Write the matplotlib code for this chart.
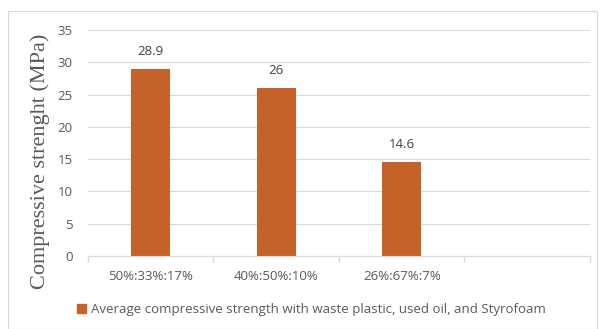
import numpy as np
import matplotlib
matplotlib.use("Agg")
import matplotlib.pyplot as plt
from matplotlib.patches import Rectangle
from matplotlib.ticker import FixedLocator, NullFormatter

# data
categories = ["50%:33%:17%", "40%:50%:10%", "26%:67%:7%", ""]
strength = [28.9, 26.0, 14.6, np.nan]
series_name = "Average compressive strength with waste plastic, used oil, and Styrofoam"

BAR_COLOR = "#C5622A"
GRID = "#D9D9D9"
TEXT = "#595959"


def main() -> None:
    plt.rcParams["font.family"] = ["Open Sans", "DejaVu Sans"]
    fig = plt.figure(figsize=(6.04, 3.29), dpi=100)
    ax = fig.add_axes([0.1457, 0.222, 0.831, 0.687])

    x = np.arange(len(categories))
    ax.bar(x, strength, width=0.31, color=BAR_COLOR, zorder=3)
    for xi, v in zip(x, strength):
        if np.isnan(v):
            continue
        ax.text(xi, v + 2.7, f"{v:g}", ha="center", va="center",
                fontsize=9.5, color="#404040")

    ax.set_xlim(-0.5, len(categories) - 0.5)
    ax.set_ylim(0, 35)
    ax.set_yticks(np.arange(0, 36, 5))
    ax.set_xticks(x)
    ax.set_xticklabels(categories)
    ax.xaxis.set_minor_locator(FixedLocator(np.arange(-0.5, len(categories), 1)))
    ax.xaxis.set_minor_formatter(NullFormatter())
    ax.tick_params(axis="x", which="major", length=0, pad=10, labelsize=9.5,
                   labelcolor=TEXT)
    ax.tick_params(axis="x", which="minor", length=4, color=GRID, width=1)
    ax.tick_params(axis="y", length=0, pad=11, labelsize=9.5, labelcolor=TEXT)

    ax.grid(axis="y", color=GRID, linewidth=0.8, zorder=0)
    for side in ("top", "right", "left"):
        ax.spines[side].set_visible(False)
    ax.spines["bottom"].set_color(GRID)
    ax.spines["bottom"].set_zorder(4)

    fig.text(0.066, 0.511, "Compressive strenght (MPa)", family="Liberation Serif",
             fontsize=16, color=TEXT, rotation=90, ha="center", va="center")

    fig.legend(handles=[Rectangle((0, 0), 1, 1, color=BAR_COLOR)],
               labels=[series_name], loc="center", bbox_to_anchor=(0.515, 0.058),
               frameon=False, fontsize=9.5, handlelength=0.7, handleheight=0.7,
               handletextpad=0.35, labelcolor=TEXT)

    border = Rectangle((0.013, 0.0), 0.976, 0.966, transform=fig.transFigure,
                       fill=False, edgecolor=GRID, linewidth=0.8)
    fig.patches.append(border)

    fig.savefig("out.png", dpi=100)


if __name__ == "__main__":
    main()
